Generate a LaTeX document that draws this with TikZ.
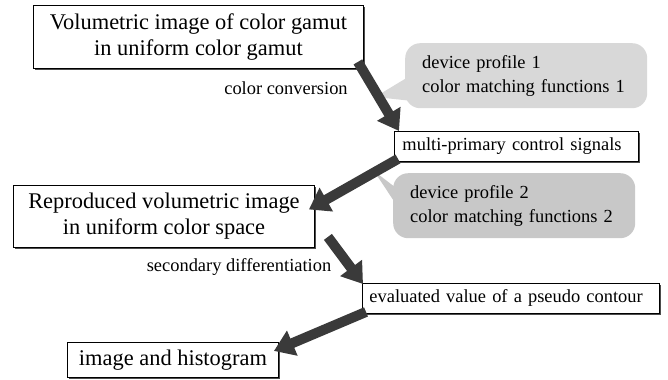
\documentclass[tikz,border=0pt]{standalone}
\usepackage{fontspec}
\setmainfont{Liberation Serif}
\usepackage{tikz}
\usetikzlibrary{arrows.meta,positioning,calc,shadows}
\definecolor{Ink}{HTML}{000000}
\definecolor{Flow}{HTML}{3A3A3A}
\definecolor{BubbleA}{HTML}{D8D8D8}
\definecolor{BubbleB}{HTML}{C8C8C8}

\begin{document}
\begin{tikzpicture}[x=1bp,y=-1bp,
  bigbox/.style={draw=Ink,line width=0.9bp,fill=white,align=center,inner sep=0pt,
    font=\fontsize{22.5}{26}\selectfont,drop shadow={shadow xshift=1.2bp,shadow yshift=-1.2bp,fill=black!70,opacity=1}},
  smallbox/.style={draw=Ink,line width=0.9bp,fill=white,align=left,inner ysep=0pt,
    font=\fontsize{18.5}{22}\selectfont,drop shadow={shadow xshift=1.2bp,shadow yshift=-1.2bp,fill=black!70,opacity=1}},
  bubble/.style={rounded corners=15bp,align=left,inner xsep=17bp,inner ysep=0pt,
    minimum width=242bp,minimum height=65bp,text width=208bp,font=\fontsize{18.5}{24}\selectfont},
  flow/.style={Flow,line width=10bp,-{Triangle[width=26bp,length=20bp]}},
  lbl/.style={font=\fontsize{18.5}{22}\selectfont,inner sep=0pt}]
\useasboundingbox (0,0) rectangle (668,379);
% boxes
\node[bigbox,anchor=north west,minimum width=330bp,minimum height=63bp] (vol) at (33,5) {Volumetric image of color gamut\\in uniform color gamut};
\node[smallbox,anchor=north west,minimum width=244bp,minimum height=30bp,inner xsep=8bp,text width=228bp] (mps) at (394,131) {multi-primary control signals};
\node[bigbox,anchor=north west,minimum width=301bp,minimum height=62bp] (rep) at (13,185) {Reproduced volumetric image\\in uniform color space};
\node[smallbox,anchor=north west,minimum width=297bp,minimum height=30bp,inner xsep=7bp,text width=283bp] (eval) at (362,283) {evaluated value of a pseudo contour};
\node[bigbox,anchor=north west,minimum width=211bp,minimum height=35bp] (hist) at (67,342) {image and histogram};
% callouts
\coordinate (t1) at (375,97);
\coordinate (t2) at (374,171);
\node[bubble,fill=BubbleA,anchor=north west] (dev1) at (405,43) {device profile 1\\color matching functions 1};
\fill[BubbleA] ($(dev1.west)+(2,2)$) -- (t1) -- ($(dev1.west)+(5,25)$) -- cycle;
\node[bubble,fill=BubbleB,anchor=north west] (dev2) at (393,173) {device profile 2\\color matching functions 2};
\fill[BubbleB] ($(dev2.west)+(4,-17)$) -- (t2) -- ($(dev2.west)+(2,-3)$) -- cycle;
% labels
\node[lbl] (conv) at (286,88) {color conversion};
\node[lbl] (diff) at (239,267) {secondary differentiation};
% arrows
\draw[flow] ($(vol.south east)+(-6,-7)$) -- ($(mps.north west)+(5,0)$);
\draw[flow] ($(mps.south west)+(4,-3)$) -- ($(rep.east)+(-6,-7)$);
\draw[flow] ($(rep.south east)+(13,-11)$) -- ($(eval.north west)+(1,1)$);
\draw[flow] ($(eval.south west)+(4,-2)$) -- ($(hist.east)+(-5,-9)$);
\end{tikzpicture}
\end{document}
